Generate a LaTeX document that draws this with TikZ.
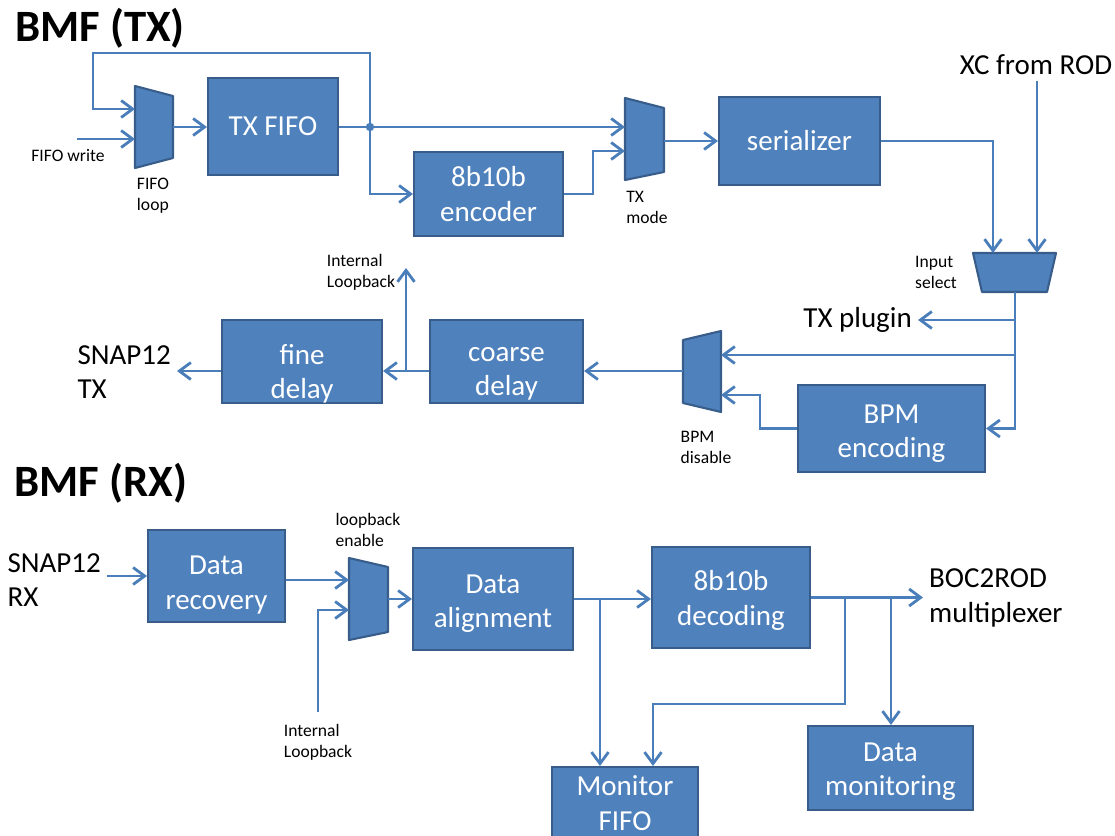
\documentclass[tikz,border=0pt]{standalone}
\usepackage{fontspec}
\setmainfont{Carlito}
\usetikzlibrary{arrows.meta}
\definecolor{blkfill}{HTML}{4F81BD}
\definecolor{blkline}{HTML}{385D8A}
\definecolor{wireblue}{HTML}{4A7EBB}
\begin{document}
\begin{tikzpicture}[x=0.02cm,y=-0.02cm,
  blk/.style={draw=blkline,fill=blkfill,line width=1.2pt,text=white,align=center,font=\fontsize{16.5}{19.5}\selectfont,inner sep=0pt},
  blktxt/.style={text=white,align=center,font=\fontsize{16.5}{19.5}\selectfont,inner sep=0pt},
  mux/.style={draw=blkline,fill=blkfill,line width=1.2pt,line join=round},
  ln/.style={draw=wireblue,line width=1.6pt},
  arr/.style={ln,-{Straight Barb[length=2.3mm,width=3.4mm]}},
  big/.style={font=\fontsize{16.5}{19.5}\selectfont,align=left},
  sml/.style={font=\fontsize{10}{12}\selectfont,align=left},
  ttl/.style={font=\fontsize{25.5}{30}\selectfont\bfseries}]
\useasboundingbox (0,0) rectangle (1115,835);

% titles
\node[ttl] (ttltx) at (100,28) {BMF (TX)};
\node[ttl] (ttlrx) at (101,483) {BMF (RX)};

% TX blocks
\node[blk,minimum width=2.6cm,minimum height=1.94cm] (txfifo) at (273,126.5) {TX FIFO};
\node[blk,minimum width=2.98cm,minimum height=1.68cm] (enc) at (488.5,194) {8b10b\\encoder};
\node[blk,minimum width=3.22cm,minimum height=1.76cm] (ser) at (799.5,141) {serializer};
\node[blk,minimum width=3.74cm,minimum height=1.74cm,
  label={[blktxt,yshift=-2.8pt]center:BPM\\encoding}] (bpm) at (891.5,428.5) {};
\node[blk,minimum width=3.06cm,minimum height=1.66cm,
  label={[blktxt,yshift=-6.8pt]center:coarse\\delay}] (coarse) at (506.5,361.5) {};
\node[blk,minimum width=3.2cm,minimum height=1.66cm,
  label={[blktxt,yshift=-6.8pt]center:fine\\delay}] (fine) at (302,361.5) {};

% RX blocks
\node[blk,minimum width=2.74cm,minimum height=1.84cm,
  label={[blktxt,yshift=-5.1pt]center:Data\\recovery}] (rec) at (216.5,576) {};
\node[blk,minimum width=3.2cm,minimum height=2.04cm,
  label={[blktxt,yshift=-2.8pt]center:Data\\alignment}] (align) at (493,599) {};
\node[blk,minimum width=3.16cm,minimum height=2.02cm,
  label={[blktxt,yshift=-1.7pt]center:8b10b\\decoding}] (dec) at (731,597.5) {};
\node[blk,minimum width=2.92cm,minimum height=1.44cm] (mon) at (625,803) {Monitor\\FIFO};
\node[blk,minimum width=3.3cm,minimum height=1.68cm,
  label={[blktxt,yshift=-2.3pt]center:Data\\monitoring}] (dmon) at (890.5,768) {};

% muxes
\draw[mux] (135,86) -- (173,96) -- (173,158) -- (135,168) -- cycle;
\coordinate (floopin1) at (135,109);
\coordinate (floopin2) at (135,139);
\coordinate (floopout) at (173,127);
\draw[mux] (625,98) -- (664,108) -- (664,172) -- (625,180) -- cycle;
\coordinate (txmodein1) at (625,127);
\coordinate (txmodein2) at (625,151);
\coordinate (txmodeout) at (664,141);
\draw[mux] (973,253) -- (1056,253) -- (1047,292) -- (982,292) -- cycle;
\coordinate (inselin1) at (993,253);
\coordinate (inselin2) at (1037,253);
\coordinate (inselout) at (1015,292);
\draw[mux] (721,331) -- (721,412) -- (683,403) -- (683,340) -- cycle;
\coordinate (bpmdisin1) at (721,355);
\coordinate (bpmdisin2) at (721,395);
\coordinate (bpmdisout) at (683,371);
\draw[mux] (349,558) -- (388,567) -- (388,632) -- (349,640) -- cycle;
\coordinate (lbin1) at (349,580);
\coordinate (lbin2) at (349,610);
\coordinate (lbout) at (388,599);

% labels
\node[big] (xc) at (1036,65) {XC from ROD};
\node[big,anchor=east] (txplug) at (918,320) {TX plugin};
\node[big,anchor=east] (snaptx) at (177,372) {SNAP12\\TX};
\node[big,anchor=east] (snaprx) at (107,580) {SNAP12\\RX};
\node[big,anchor=west] (boc) at (923,598) {BOC2ROD\\multiplexer};
\node[sml] (fwrite) at (68,156) {FIFO write};
\node[sml] (floop) at (153,196) {FIFO\\loop};
\node[sml] (txmode) at (647,207) {TX\\mode};
\node[sml] (insel) at (936,272) {Input\\select};
\node[sml] (intlbtx) at (361,272) {Internal\\Loopback};
\node[sml] (bpmdis) at (706,447) {BPM\\disable};
\node[sml] (lben) at (368,530) {loopback\\enable};
\node[sml] (intlbrx) at (318,742) {Internal\\Loopback};

% TX wiring
\coordinate (jn) at (370,127);
\coordinate (looptop) at (93,53);
\draw[arr] (jn) -- (jn |- looptop) -- (looptop) |- (floopin1);
\coordinate (fwr) at (77,139);
\draw[arr] (fwr) -- (floopin2);
\draw[arr] (floopout) -- (floopout -| txfifo.west);
\draw[arr] (txfifo.east |- txmodein1) -- (txmodein1);
\fill[wireblue] (jn) circle (2.4pt);
\draw[arr] (jn) |- (enc.west);
\coordinate (bendA) at (593,151);
\draw[arr] (enc.east) -| (bendA) -- (txmodein2);
\draw[arr] (txmodeout) -- (txmodeout -| ser.west);
\draw[arr] (ser.east) -| (inselin1);
\draw[arr] (xc.south -| inselin2) -- (inselin2);
\draw[arr] (inselout) |- (bpm.east);
\draw[arr] (inselout |- txplug.east) -- (txplug.east);
\draw[arr] (inselout |- bpmdisin1) -- (bpmdisin1);
\coordinate (bendB) at (760,395);
\draw[arr] (bpm.west) -| (bendB) -- (bpmdisin2);
\draw[arr] (bpmdisout) -- (bpmdisout -| coarse.east);
\draw[arr] (coarse.west |- bpmdisout) -- (fine.east |- bpmdisout);
\coordinate (lbtap) at (406,371);
\coordinate (lbtop) at (406,268);
\draw[arr] (lbtap) -- (lbtop);
\draw[arr] (fine.west |- bpmdisout) -- (snaptx.east |- bpmdisout);

% RX wiring
\draw[arr] (snaprx.east |- rec) -- (rec.west);
\draw[arr] (rec.east |- lbin1) -- (lbin1);
\coordinate (lbsrc) at (318,712);
\draw[arr] (lbsrc) |- (lbin2);
\draw[arr] (lbout) -- (lbout -| align.west);
\draw[arr] (align.east) -- (align.east -| dec.west);
\coordinate (tapA) at (600,599);
\draw[arr] (tapA) -- (tapA |- mon.north);
\draw[arr] (dec.east) -- (dec.east -| boc.west);
\coordinate (tapB) at (845,597.5);
\coordinate (bendC) at (653,704);
\draw[arr] (tapB) |- (bendC) -- (bendC |- mon.north);
\coordinate (tapC) at (891,597.5);
\draw[arr] (tapC) -- (tapC |- dmon.north);
\end{tikzpicture}
\end{document}
